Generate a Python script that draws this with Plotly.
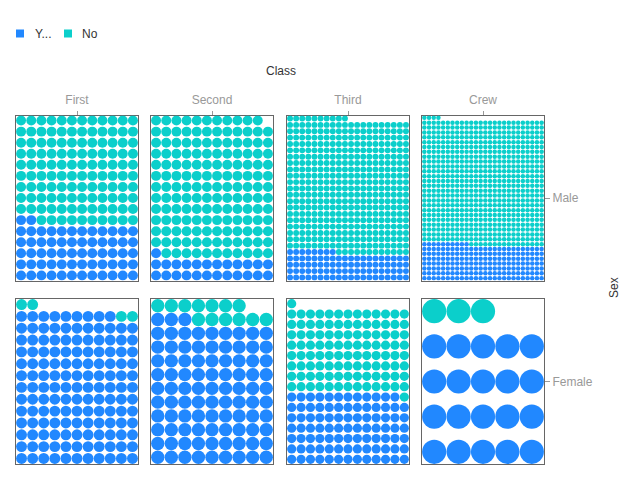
import math
import plotly.graph_objects as go

# ---- data (Titanic passengers by Class x Sex x Survived) ----
classes = ["First", "Second", "Third", "Crew"]
sexes = ["Male", "Female"]
yes_male = [62, 25, 88, 192]
no_male = [118, 154, 422, 670]
yes_female = [141, 93, 90, 20]
no_female = [4, 13, 106, 3]
legend_labels = ["Y...", "No"]

yes_counts = {"Male": yes_male, "Female": yes_female}
no_counts = {"Male": no_male, "Female": no_female}

BLUE = "#2188ff"
TEAL = "#0bcfcb"
W_PX, H_PX = 640, 480

# panel geometry in pixels
col_left = [16, 151, 287, 422]
row_top = [115.5, 299]
PW, PH = 122, 165

fig = go.Figure()
layout = dict(
    width=W_PX, height=H_PX,
    margin=dict(l=0, r=0, t=0, b=0),
    paper_bgcolor="white", plot_bgcolor="white",
    showlegend=False,
    font=dict(family="Liberation Sans, Arial, sans-serif", size=12, color="#333"),
)

k = 0
for ri, sex in enumerate(sexes):
    for ci, cls in enumerate(classes):
        k += 1
        ny = yes_counts[sex][ci]
        nn = no_counts[sex][ci]
        n = ny + nn
        cols = math.ceil(math.sqrt(n * PW / PH))
        rows = math.ceil(n / cols)
        d = PW / cols
        s_px = (PH - d) / (rows - 1)
        half = (d / 2) / s_px
        xs_y, ys_y, xs_n, ys_n = [], [], [], []
        for i in range(n):
            cx = i % cols + 1
            cy = i // cols + 1
            if i < ny:
                xs_y.append(cx); ys_y.append(cy)
            else:
                xs_n.append(cx); ys_n.append(cy)
        xa = "x" if k == 1 else f"x{k}"
        ya = "y" if k == 1 else f"y{k}"
        for xs, ys, colr, nm in [(xs_y, ys_y, BLUE, "Yes"), (xs_n, ys_n, TEAL, "No")]:
            fig.add_trace(go.Scatter(
                x=xs, y=ys, mode="markers", name=nm, xaxis=xa, yaxis=ya,
                marker=dict(color=colr, size=d - 0.2, line=dict(width=0)),
                hoverinfo="skip",
            ))
        x0 = col_left[ci] / W_PX
        x1 = (col_left[ci] + PW) / W_PX
        y1 = 1 - row_top[ri] / H_PX
        y0 = 1 - (row_top[ri] + PH) / H_PX
        xr = [0.5, cols + 0.5]
        yr = [1 - half, rows + half]
        xkey = "xaxis" if k == 1 else f"xaxis{k}"
        ykey = "yaxis" if k == 1 else f"yaxis{k}"
        xdict = dict(domain=[x0, x1], range=xr, anchor=ya, showgrid=False,
                     zeroline=False, showline=True, mirror=True,
                     linecolor="#666", linewidth=1, layer="below traces",
                     fixedrange=True)
        if ri == 0:
            xdict.update(side="top", tickvals=[(cols + 1) / 2], ticktext=[cls],
                         ticks="outside", ticklen=4, tickcolor="#999",
                         ticklabelstandoff=2,
                         tickfont=dict(color="#999", size=12))
        else:
            xdict.update(showticklabels=False, ticks="")
        ydict = dict(domain=[y0, y1], range=yr, anchor=xa, showgrid=False,
                     zeroline=False, showline=True, mirror=True,
                     linecolor="#666", linewidth=1, layer="below traces",
                     fixedrange=True)
        if ci == len(classes) - 1:
            ydict.update(side="right", tickvals=[(yr[0] + yr[1]) / 2], ticktext=[sex],
                         ticks="outside", ticklen=5, tickcolor="#999",
                         tickfont=dict(color="#999", size=12))
        else:
            ydict.update(showticklabels=False, ticks="")
        layout[xkey] = xdict
        layout[ykey] = ydict

fig.update_layout(**layout)

# axis titles
fig.add_annotation(x=281 / W_PX, y=1 - 71 / H_PX, xref="paper", yref="paper",
                   xanchor="center", yanchor="middle",
                   text="Class", showarrow=False, font=dict(size=12, color="#333"))
fig.add_annotation(x=614 / W_PX, y=1 - 288 / H_PX, xref="paper", yref="paper",
                   xanchor="center", yanchor="middle",
                   text="Sex", textangle=-90, showarrow=False,
                   font=dict(size=12, color="#333"))

# legend
leg = [(16, 33, BLUE, legend_labels[0]), (64, 80, TEAL, legend_labels[1])]
for sx, tx, colr, lab in leg:
    fig.add_shape(type="rect", xref="paper", yref="paper",
                  x0=sx / W_PX, x1=(sx + 8) / W_PX,
                  y0=1 - 37.5 / H_PX, y1=1 - 29.5 / H_PX,
                  fillcolor=colr, line=dict(width=0))
    fig.add_annotation(x=tx / W_PX, y=1 - 33.5 / H_PX, xref="paper", yref="paper",
                       text=lab, showarrow=False, xanchor="left", yanchor="middle",
                       font=dict(size=12, color="#333"))

fig.write_html("out.html")
